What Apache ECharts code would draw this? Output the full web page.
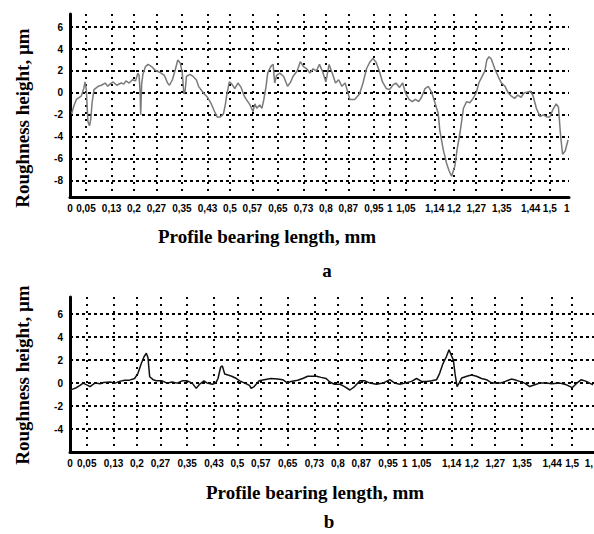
<!DOCTYPE html>
<html><head><meta charset="utf-8">
<script src="https://cdn.jsdelivr.net/npm/echarts@6/dist/echarts.min.js"></script>
<style>html,body{margin:0;padding:0;background:#fff}#c{width:594px;height:534px}</style>
</head><body><div id="c"></div>
<script>
// ---- data: chart a ----
const aX = [0.005,0.012,0.02,0.035,0.043,0.047,0.051,0.056,0.061,0.065,0.069,0.075,0.088,0.098,0.11,0.118,0.125,0.135,0.146,0.16,0.168,0.175,0.185,0.195,0.205,0.212,0.216,0.219,0.221,0.224,0.228,0.236,0.244,0.255,0.265,0.272,0.285,0.295,0.305,0.311,0.32,0.328,0.337,0.345,0.351,0.356,0.36,0.364,0.375,0.385,0.395,0.402,0.412,0.42,0.43,0.44,0.452,0.46,0.47,0.48,0.486,0.49,0.498,0.506,0.515,0.525,0.535,0.545,0.551,0.556,0.561,0.566,0.572,0.578,0.584,0.593,0.6,0.606,0.613,0.618,0.624,0.63,0.635,0.64,0.646,0.656,0.668,0.68,0.69,0.697,0.71,0.72,0.73,0.74,0.75,0.76,0.77,0.78,0.79,0.8,0.81,0.82,0.83,0.84,0.85,0.86,0.869,0.875,0.89,0.905,0.916,0.927,0.937,0.947,0.957,0.967,0.977,0.989,0.999,1.009,1.019,1.03,1.04,1.05,1.06,1.07,1.08,1.09,1.099,1.11,1.12,1.13,1.14,1.151,1.156,1.167,1.177,1.185,1.193,1.203,1.21,1.22,1.23,1.24,1.25,1.26,1.27,1.278,1.29,1.297,1.303,1.31,1.317,1.328,1.34,1.349,1.36,1.37,1.38,1.39,1.4,1.41,1.42,1.44,1.448,1.458,1.469,1.48,1.49,1.5,1.51,1.52,1.527,1.534,1.54,1.548,1.557];
const aY = [-1.9,-1.2,-0.6,-0.3,0.4,1.0,0.3,-2.6,-3.0,-2.4,-0.9,0.3,0.6,0.7,0.9,0.6,0.8,1.0,0.7,0.9,0.8,1.1,0.9,1.2,1.1,1.8,1.6,0.2,-2.0,0.8,1.7,2.4,2.6,2.4,2.1,2.0,1.8,1.6,0.9,0.7,1.2,2.0,3.0,2.7,1.8,-0.1,0.2,1.5,1.7,1.5,1.2,0.6,0.2,-0.1,-0.4,-0.9,-1.7,-2.2,-2.2,-1.9,-1.0,-0.2,1.0,0.8,0.4,0.9,0.5,-0.3,-0.6,-0.8,-1.0,-1.3,-1.7,-1.0,-1.4,-1.1,-1.4,-0.6,0.6,1.8,2.2,2.5,2.6,0.9,1.6,1.8,1.5,0.6,1.0,1.5,2.0,2.85,2.4,2.2,1.8,2.2,2.0,2.6,1.9,1.0,2.6,1.8,0.9,1.2,0.6,0.9,0.0,-0.6,-0.6,-0.1,0.9,2.2,2.8,3.15,2.8,2.0,1.0,0.4,0.3,0.7,0.9,0.5,0.9,-0.1,-0.6,-0.8,-0.6,-0.8,-0.4,0.4,0.6,0.1,-0.8,-1.85,-3.4,-5.2,-6.4,-7.1,-7.6,-6.7,-5.2,-3.5,-1.4,-0.8,-0.9,-0.5,0.0,0.9,1.6,2.0,3.0,3.3,3.1,2.2,1.4,0.9,0.6,0.0,-0.3,-0.5,-0.2,-0.4,0.0,0.15,-0.3,-1.4,-2.15,-2.0,-2.2,-2.2,-1.5,-1.0,-1.3,-4.0,-5.6,-5.3,-4.3];

// ---- data: chart b ----
const bX = [0.0,0.01,0.019,0.03,0.039,0.05,0.06,0.074,0.09,0.1,0.12,0.135,0.148,0.163,0.178,0.193,0.203,0.213,0.221,0.228,0.233,0.236,0.238,0.248,0.258,0.275,0.29,0.305,0.32,0.335,0.35,0.365,0.377,0.387,0.4,0.41,0.425,0.435,0.442,0.45,0.455,0.462,0.472,0.483,0.497,0.507,0.522,0.536,0.541,0.55,0.565,0.58,0.6,0.62,0.635,0.65,0.66,0.68,0.695,0.71,0.736,0.75,0.765,0.776,0.79,0.806,0.82,0.836,0.85,0.866,0.881,0.896,0.915,0.935,0.955,0.97,0.985,1.0,1.02,1.035,1.05,1.065,1.08,1.095,1.104,1.114,1.124,1.132,1.139,1.145,1.15,1.156,1.162,1.17,1.185,1.199,1.214,1.229,1.244,1.26,1.27,1.285,1.3,1.318,1.328,1.343,1.358,1.373,1.388,1.403,1.423,1.438,1.463,1.483,1.5,1.512,1.527,1.542,1.562];
const bY = [-0.6,-0.5,-0.4,-0.2,0.0,-0.15,-0.3,0.0,-0.05,0.05,0.1,0.0,0.15,0.25,0.26,0.4,0.85,1.7,2.3,2.6,2.2,1.2,0.55,0.3,0.2,0.2,0.0,0.1,0.0,0.2,0.2,0.0,-0.46,-0.1,0.2,0.0,-0.1,0.0,0.4,1.4,1.5,0.8,0.7,0.6,0.4,0.2,0.0,-0.2,-0.46,-0.3,0.2,0.3,0.4,0.35,0.3,0.0,0.15,0.25,0.4,0.6,0.6,0.5,0.4,0.1,-0.1,-0.1,-0.3,-0.6,-0.3,0.2,0.2,0.0,-0.1,0.0,0.3,0.0,-0.1,0.0,0.15,0.4,0.15,0.15,0.2,0.3,0.85,1.7,2.3,2.9,2.4,2.0,0.8,-0.3,0.0,0.45,0.6,0.7,0.6,0.4,0.3,0.0,0.0,0.0,0.15,0.35,0.3,0.15,0.0,-0.3,-0.15,0.0,0.0,-0.05,0.0,-0.15,-0.4,-0.05,0.3,0.15,-0.15];

// ---- ticks & labels ----
const gridTicks = [0.05,0.13,0.2,0.27,0.35,0.43,0.5,0.57,0.65,0.73,0.8,0.87,0.95,1,1.05,1.14,1.2,1.27,1.35,1.44,1.5];
const gridTickLabels = ['0,05','0,13','0,2','0,27','0,35','0,43','0,5','0,57','0,65','0,73','0,8','0,87','0,95','1','1,05','1,14','1,2','1,27','1,35','1,44','1,5'];
const aLabelVals = [0].concat(gridTicks, [1.553]);
const aLabelTexts = ['0'].concat(gridTickLabels, ['1']);
const bLabelVals = [0].concat(gridTicks, [1.55]);
const bLabelTexts = ['0'].concat(gridTickLabels, ['1,']);
const aYTicks = [-8,-6,-4,-2,0,2,4,6];
const bYTicks = [-4,-2,0,2,4,6];

const yTitle = 'Roughness height, µm';
const xTitle = 'Profile bearing length, mm';
const panelNames = ['a','b'];

function pairs(xs, ys){ return xs.map((x,i)=>[x, ys[i]]); }
function lookup(vals, texts){
  return function(v){
    for (let i=0;i<vals.length;i++){ if (Math.abs(vals[i]-v)<1e-9) return texts[i]; }
    return '';
  };
}
const tickFont = {color:'#000', fontWeight:'bold', fontSize:10, fontFamily:'Liberation Sans, Arial, sans-serif'};
function xAxisCfg(gi, max, lv, lt){
  return {
    type:'value', gridIndex:gi, min:0, max:max,
    axisLine:{show:true, onZero:false, lineStyle:{color:'#000', width:3}},
    axisTick:{show:false, customValues:gridTicks},
    axisLabel:Object.assign({customValues:lv, formatter:lookup(lv, lt), margin:6, hideOverlap:false, showMinLabel:true, showMaxLabel:true}, tickFont),
    splitLine:{show:true, lineStyle:{color:'#000', width:2, type:[2,5]}}
  };
}
function yAxisCfg(gi, min, max, ticks){
  return {
    type:'value', gridIndex:gi, min:min, max:max,
    axisLine:{show:true, onZero:false, lineStyle:{color:'#000', width:3}},
    axisTick:{show:false, customValues:ticks},
    axisLabel:Object.assign({customValues:ticks, margin:7}, tickFont),
    splitLine:{show:true, lineStyle:{color:'#000', width:2, type:[3,3]}}
  };
}
const serif = 'bold 19px "Liberation Serif", "Times New Roman", serif';
function txt(x, y, text, rot, font){
  return {type:'text', x:x, y:y, rotation:rot||0,
    style:{text:text, font:font||serif, fill:'#000', textAlign:'center', textVerticalAlign:'middle', align:'center', verticalAlign:'middle'}};
}

const chart = echarts.init(document.getElementById('c'), null, {renderer:'svg'});
chart.setOption({
  animation:false,
  backgroundColor:'#fff',
  grid:[
    {left:70, top:14, width:499, height:183, outerBoundsMode:'none', containLabel:false},
    {left:70, top:297, width:524, height:155, outerBoundsMode:'none', containLabel:false}
  ],
  xAxis:[xAxisCfg(0, 1.56, aLabelVals, aLabelTexts), xAxisCfg(1, 1.565, bLabelVals, bLabelTexts)],
  yAxis:[yAxisCfg(0, -9.5, 7.2, aYTicks), yAxisCfg(1, -6, 7.5, bYTicks)],
  series:[
    {type:'line', xAxisIndex:0, yAxisIndex:0, data:pairs(aX,aY), showSymbol:false, lineStyle:{color:'#7a7a7a', width:1.5}},
    {type:'line', xAxisIndex:1, yAxisIndex:1, data:pairs(bX,bY), showSymbol:false, lineStyle:{color:'#111', width:1.5}}
  ],
  graphic:[
    txt(22, 118, yTitle, Math.PI/2),
    txt(22, 375, yTitle, Math.PI/2),
    txt(267, 236, xTitle),
    txt(315, 492, xTitle),
    txt(327, 270, panelNames[0]),
    txt(329, 521, panelNames[1])
  ]
});
</script>
</body></html>
